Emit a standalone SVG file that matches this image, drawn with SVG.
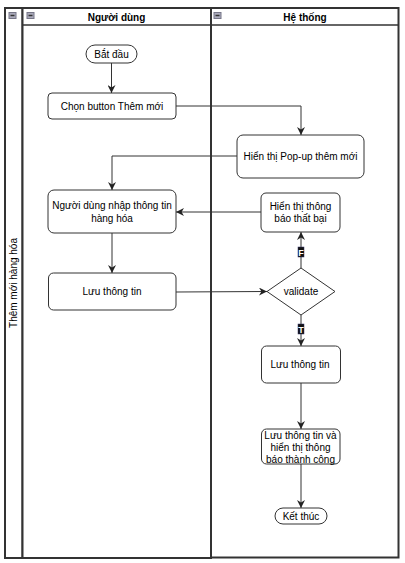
<svg xmlns="http://www.w3.org/2000/svg" width="405" height="563" viewBox="0 0 405 563">
<style>
.lane{fill:#fff;stroke:#333;stroke-width:2}
.hdr{fill:none;stroke:#333;stroke-width:1.5}
.icon{fill:#aab;stroke:#778;stroke-width:1}
.iconbar{stroke:#333;stroke-width:1.5}
.node{fill:#fff;stroke:#333;stroke-width:1}
.t{font-family:"Liberation Sans",Arial,sans-serif;font-size:10px;fill:#000;text-anchor:middle}
.h{font-family:"Liberation Sans",Arial,sans-serif;font-size:10px;font-weight:bold;fill:#000;text-anchor:middle}
.edge{fill:none;stroke:#333;stroke-width:1}
.lblbg{fill:#111;stroke:#336;stroke-width:0.5}
.lbl{font-family:"Liberation Sans",Arial,sans-serif;font-size:9px;font-weight:bold;fill:#fff;text-anchor:middle}
</style>
<defs>
<marker id="arr" viewBox="0 0 10 10" refX="10" refY="5" markerWidth="8" markerHeight="8" markerUnits="userSpaceOnUse" orient="auto">
<path d="M0,0 L10,5 L0,10 L3,5 Z" fill="#222"/>
</marker>
</defs>
<g id="pool">
<rect class="lane" x="5" y="8" width="17.5" height="550"/>
<g class="icon"><rect x="9" y="12.5" width="7" height="6"/></g>
<line class="iconbar" x1="10.5" y1="15.5" x2="14.5" y2="15.5"/>
<text class="t" transform="translate(17,283) rotate(-90)">Thêm mới hàng hóa</text>
</g>
<g id="lane-user">
<rect class="lane" x="22.5" y="8" width="188.5" height="550"/>
<line class="hdr" x1="22.5" y1="25" x2="211" y2="25"/>
<rect class="icon" x="27" y="12.5" width="7" height="6"/>
<line class="iconbar" x1="28.5" y1="15.5" x2="32.5" y2="15.5"/>
<text class="h" x="116.5" y="21">Người dùng</text>
</g>
<g id="lane-system">
<rect class="lane" x="211" y="8" width="187.5" height="549.5"/>
<line class="hdr" x1="211" y1="25" x2="398.5" y2="25"/>
<rect class="icon" x="214" y="12.5" width="7" height="6"/>
<line class="iconbar" x1="215.5" y1="15.5" x2="219.5" y2="15.5"/>
<text class="h" x="305" y="21">Hệ thống</text>
</g>
<g id="connectors">
<path class="edge" d="M111.5,63 L111.5,93" marker-end="url(#arr)"/>
<path class="edge" d="M176,106 L301,106 L301,135" marker-end="url(#arr)"/>
<path class="edge" d="M237,156 L112,156 L112,190" marker-end="url(#arr)"/>
<path class="edge" d="M112,233 L112,273" marker-end="url(#arr)"/>
<path class="edge" d="M176,292 L267,291.5" marker-end="url(#arr)"/>
<path class="edge" d="M301,268 L301,232" marker-end="url(#arr)"/>
<path class="edge" d="M261,212 L176,212" marker-end="url(#arr)"/>
<path class="edge" d="M301,315 L301,346" marker-end="url(#arr)"/>
<path class="edge" d="M301,383 L301,429" marker-end="url(#arr)"/>
<path class="edge" d="M301,464 L301,508" marker-end="url(#arr)"/>
<g id="label-F"><rect class="lblbg" x="298" y="247" width="6" height="10"/><text class="lbl" x="301" y="255.5">F</text></g>
<g id="label-T"><rect class="lblbg" x="298" y="324" width="6" height="10"/><text class="lbl" x="301" y="332.5">T</text></g>
</g>
<g id="start">
<rect class="node" x="86" y="45" width="51" height="18" rx="9"/>
<text class="t" x="111.5" y="57.5">Bắt đầu</text>
</g>
<g id="choose-button">
<rect class="node" x="48" y="93" width="128" height="26" rx="4"/>
<text class="t" x="112" y="109.5">Chọn button Thêm mới</text>
</g>
<g id="show-popup">
<rect class="node" x="237" y="135" width="127" height="43" rx="6"/>
<text class="t" x="300.5" y="160">Hiển thị Pop-up thêm mới</text>
</g>
<g id="enter-info">
<rect class="node" x="48" y="190" width="128" height="43" rx="6"/>
<text class="t" x="112" y="209">Người dùng nhập thông tin</text>
<text class="t" x="112" y="222">hàng hóa</text>
</g>
<g id="show-fail">
<rect class="node" x="261" y="193" width="79" height="39" rx="5"/>
<text class="t" x="300.5" y="210">Hiển thị thông</text>
<text class="t" x="300.5" y="222">báo thất bại</text>
</g>
<g id="save-user">
<rect class="node" x="48.5" y="273" width="127.5" height="37" rx="5"/>
<text class="t" x="112" y="295">Lưu thông tin</text>
</g>
<g id="validate">
<path class="node" d="M301,268 L335,291.5 L301,315 L267,291.5 Z"/>
<text class="t" x="301" y="295">validate</text>
</g>
<g id="save-system">
<rect class="node" x="261.5" y="346" width="79" height="37" rx="5"/>
<text class="t" x="300" y="368">Lưu thông tin</text>
</g>
<g id="save-success">
<rect class="node" x="261.5" y="429" width="78.5" height="35" rx="5"/>
<text class="t" x="300.5" y="438.5">Lưu thông tin và</text>
<text class="t" x="300.5" y="450.5">hiển thị thông</text>
<text class="t" x="300.5" y="462.5">báo thành công</text>
</g>
<g id="end">
<rect class="node" x="275" y="508" width="52" height="16" rx="8"/>
<text class="t" x="301" y="519.5">Kết thúc</text>
</g>
</svg>
